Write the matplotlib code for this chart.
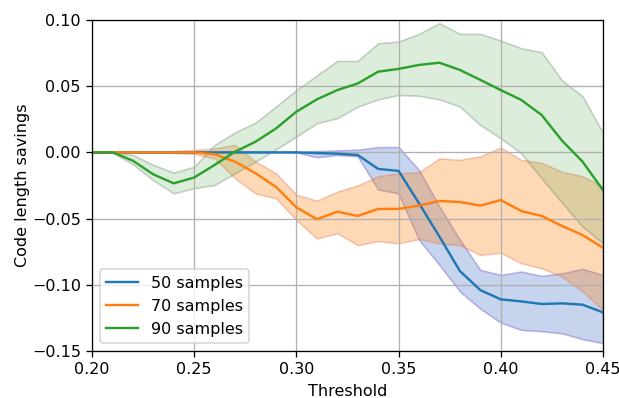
import matplotlib
matplotlib.use('Agg')
import matplotlib.pyplot as plt
import numpy as np

thresholds = np.round(np.arange(0.20, 0.4501, 0.01), 2)

mean_50 = [0, 0, 0, 0, 0, 0, 0, 0, 0, 0, 0, -0.0005, -0.001, -0.002,
           -0.0125, -0.014, -0.0385, -0.0636, -0.0896, -0.104, -0.111,
           -0.1125, -0.1145, -0.114, -0.115, -0.1208]
upper_50 = [0, 0, 0, 0, 0, 0, 0, 0, 0, 0, 0, 0.001, 0.0015, 0.002,
            0.004, 0.004, -0.0133, -0.041, -0.066, -0.0888, -0.0925,
            -0.090, -0.0933, -0.0913, -0.088, -0.0925]
lower_50 = [0, 0, 0, 0, 0, 0, 0, 0, 0, 0, 0, -0.0037, -0.002, -0.003,
            -0.028, -0.031, -0.066, -0.085, -0.105, -0.118, -0.1285,
            -0.134, -0.135, -0.1366, -0.141, -0.144]

mean_70 = [0, 0, 0, 0, 0, 0, -0.0015, -0.007, -0.0158, -0.026, -0.0415,
           -0.0505, -0.0448, -0.048, -0.0427, -0.0427, -0.0402, -0.0367,
           -0.0375, -0.0402, -0.036, -0.0443, -0.048, -0.0556, -0.0624,
           -0.072]
upper_70 = [0, 0, 0, 0, 0.001, 0.0018, 0.003, 0.0056, -0.007, -0.0158,
            -0.032, -0.0365, -0.0297, -0.025, -0.018, -0.0158, -0.015,
            -0.0045, -0.0057, -0.003, 0.0036, -0.0057, -0.008, -0.0146,
            -0.018, -0.026]
lower_70 = [0, 0, 0, 0, -0.0005, -0.0012, -0.0045, -0.0196, -0.031,
            -0.0347, -0.051, -0.065, -0.061, -0.07, -0.067, -0.0687,
            -0.0654, -0.0687, -0.07, -0.0775, -0.0757, -0.0837, -0.0875,
            -0.0938, -0.105, -0.119]

mean_90 = [0, 0, -0.0063, -0.0166, -0.0234, -0.019, -0.0095, 0.0005,
           0.008, 0.018, 0.0307, 0.040, 0.047, 0.052, 0.0609, 0.063,
           0.066, 0.0677, 0.0622, 0.0547, 0.047, 0.0396, 0.0282, 0.0088,
           -0.007, -0.0285]
upper_90 = [0, 0, -0.002, -0.0095, -0.0153, -0.0108, 0.0056, 0.0150,
            0.0225, 0.0345, 0.047, 0.058, 0.069, 0.069, 0.0824, 0.0836,
            0.0894, 0.0975, 0.0894, 0.0894, 0.0844, 0.0786, 0.0756, 0.0542,
            0.0424, 0.0146]
lower_90 = [0, 0, -0.009, -0.021, -0.031, -0.027, -0.0246, -0.0158,
            -0.007, 0.0023, 0.0119, 0.022, 0.0258, 0.0345, 0.040, 0.0433,
            0.0428, 0.040, 0.0345, 0.0207, 0.0106, -0.0007, -0.0196,
            -0.038, -0.056, -0.0687]

# label, mean, lower, upper, line colour, band face, band edge
series = [
    ('50 samples', mean_50, lower_50, upper_50, 'C0', (0.27, 0.45, 0.78, 0.3), (0.45, 0.4, 0.8, 0.45)),
    ('70 samples', mean_70, lower_70, upper_70, 'C1', (1.0, 0.5, 0.06, 0.3), (0.85, 0.45, 0.3, 0.35)),
    ('90 samples', mean_90, lower_90, upper_90, 'C2', (0.35, 0.65, 0.3, 0.2), (0.4, 0.5, 0.4, 0.35)),
]

dpi = 115
fig = plt.figure(figsize=(619 / dpi, 398 / dpi), dpi=dpi)
ax = fig.add_axes([0.1486, 0.118, 0.8255, 0.832])

for label, mean, lower, upper, color, face, edge in series:
    ax.plot(thresholds, mean, color=color, label=label)
    ax.fill_between(thresholds, lower, upper, facecolor=face, edgecolor=edge,
                    linewidth=1)

ax.set_xlim(0.20, 0.45)
ax.set_ylim(-0.15, 0.10)
ax.set_xticks([0.20, 0.25, 0.30, 0.35, 0.40, 0.45])
ax.set_yticks([-0.15, -0.10, -0.05, 0.00, 0.05, 0.10])
ax.grid()
ax.set_xlabel('Threshold')
ax.set_ylabel('Code length savings', labelpad=1)
ax.legend(loc='lower left')

plt.savefig('out.png', dpi=dpi)
plt.close()
